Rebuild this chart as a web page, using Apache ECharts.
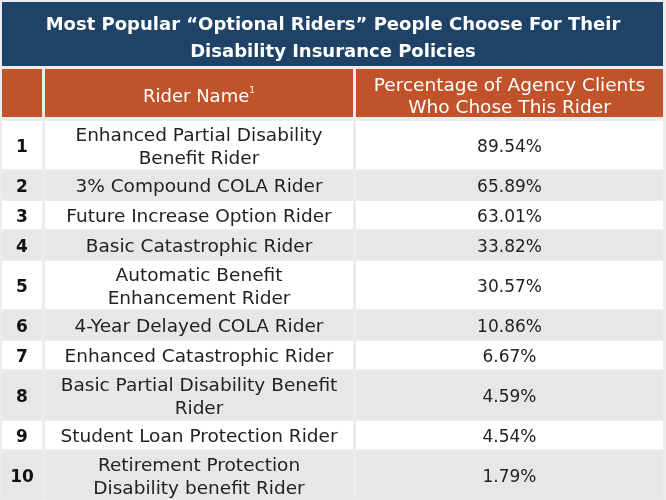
<!DOCTYPE html>
<html>
<head>
<meta charset="utf-8">
<script src="https://cdn.jsdelivr.net/npm/echarts@6/dist/echarts.min.js"></script>
<style>html,body{margin:0;padding:0;background:#ececec}#c{width:666px;height:500px}</style>
</head>
<body>
<div id="c"></div>
<script>
// ---- data ----
const titleLines = ['Most Popular \u201cOptional Riders\u201d People Choose For Their', 'Disability Insurance Policies'];
const headers = ['', 'Rider Name', 'Percentage of Agency Clients\nWho Chose This Rider'];
const headerNote = '1';
const ranks = ['1', '2', '3', '4', '5', '6', '7', '8', '9', '10'];
const riders = [
  'Enhanced Partial Disability\nBenefit Rider',
  '3% Compound COLA Rider',
  'Future Increase Option Rider',
  'Basic Catastrophic Rider',
  'Automatic Benefit\nEnhancement Rider',
  '4-Year Delayed COLA Rider',
  'Enhanced Catastrophic Rider',
  'Basic Partial Disability Benefit\nRider',
  'Student Loan Protection Rider',
  'Retirement Protection\nDisability benefit Rider'
];
const percentages = [89.54, 65.89, 63.01, 33.82, 30.57, 10.86, 6.67, 4.59, 4.54, 1.79];

// ---- layout (in axis units: 1 unit = 1 px) ----
const COLS = [[2, 42], [45, 353], [356, 663]];
const BODY_TOP = 120;
const tops = [], bottoms = [];
let y = BODY_TOP;
riders.forEach(r => {
  const h = 10 + 20 * r.split('\n').length;
  tops.push(y); bottoms.push(y + h); y += h;
});
const FONT = '"DejaVu Sans", sans-serif';
const NAVY = '#1e4366';
const ORANGE = '#c1532b';

function cellRects(api, top, bottom, fill) {
  const p0 = api.coord([0, top]), p1 = api.coord([0, bottom]);
  return COLS.map(([a, b]) => {
    const x0 = api.coord([a, top])[0], x1 = api.coord([b, top])[0];
    return { type: 'rect', shape: { x: x0, y: p0[1] + 1, width: x1 - x0, height: p1[1] - p0[1] - 2 }, style: { fill } };
  });
}
function colCenter(api, c, yy) {
  return api.coord([(COLS[c][0] + COLS[c][1]) / 2, yy]);
}

const chart = echarts.init(document.getElementById('c'), null, { renderer: 'canvas' });
chart.setOption({
  backgroundColor: '#ececec',
  animation: false,
  grid: { left: 0, right: 0, top: 0, bottom: 0 },
  xAxis: { type: 'value', min: 0, max: 666, show: false },
  yAxis: { type: 'value', min: 0, max: 500, inverse: true, show: false },
  series: [
    {
      type: 'custom',
      name: 'title',
      data: [[0, 2, 66]],
      renderItem: function (params, api) {
        const p0 = api.coord([2, api.value(1)]), p1 = api.coord([663, api.value(2)]);
        const c = api.coord([333, (api.value(1) + api.value(2)) / 2 + 5]);
        return { type: 'group', children: [
          { type: 'rect', shape: { x: p0[0], y: p0[1], width: p1[0] - p0[0], height: p1[1] - p0[1] }, style: { fill: NAVY } },
          { type: 'text', x: c[0], y: c[1], style: { text: titleLines.join('\n'), fill: '#ffffff', font: 'bold 18px ' + FONT, lineHeight: 27, align: 'center', verticalAlign: 'middle' } }
        ] };
      }
    },
    {
      type: 'custom',
      name: 'header',
      data: [[0, 68, 118]],
      renderItem: function (params, api) {
        const top = api.value(1), bottom = api.value(2), mid = (top + bottom) / 2;
        const children = cellRects(api, top, bottom, ORANGE);
        headers.forEach((h, c) => {
          if (!h) return;
          const p = colCenter(api, c, mid + 4);
          const rich = c === 1;
          children.push({ type: 'text', x: p[0], y: p[1], style: {
            text: rich ? '{a|' + h + '}{s|' + headerNote + '}' : h,
            rich: rich ? { a: { fill: '#fff', font: '18px ' + FONT }, s: { fill: '#fff', font: '9px ' + FONT, verticalAlign: 'top', padding: [0, 0, 9, 0] } } : undefined,
            fill: '#ffffff', font: '18.5px ' + FONT, lineHeight: 22, align: 'center', verticalAlign: 'middle' } });
        });
        return { type: 'group', children };
      }
    },
    {
      type: 'custom',
      name: 'rows',
      data: ranks.map((r, i) => [i, tops[i], bottoms[i], percentages[i]]),
      renderItem: function (params, api) {
        const i = api.value(0), top = api.value(1), bottom = api.value(2), mid = (top + bottom) / 2;
        const fill = i % 2 ? '#e7e7e7' : '#ffffff';
        const children = cellRects(api, top, bottom, fill);
        const texts = [ranks[i], riders[i], api.value(3).toFixed(2) + '%'];
        const fonts = ['bold 17px ', '18.5px ', '17px '];
        texts.forEach((t, c) => {
          const p = colCenter(api, c, mid + 2.5);
          children.push({ type: 'text', x: p[0], y: p[1], style: {
            text: t, fill: c === 0 ? '#111' : '#222',
            font: fonts[c] + FONT, lineHeight: 23, align: 'center', verticalAlign: 'middle' } });
        });
        return { type: 'group', children };
      }
    }
  ]
});
</script>
</body>
</html>
